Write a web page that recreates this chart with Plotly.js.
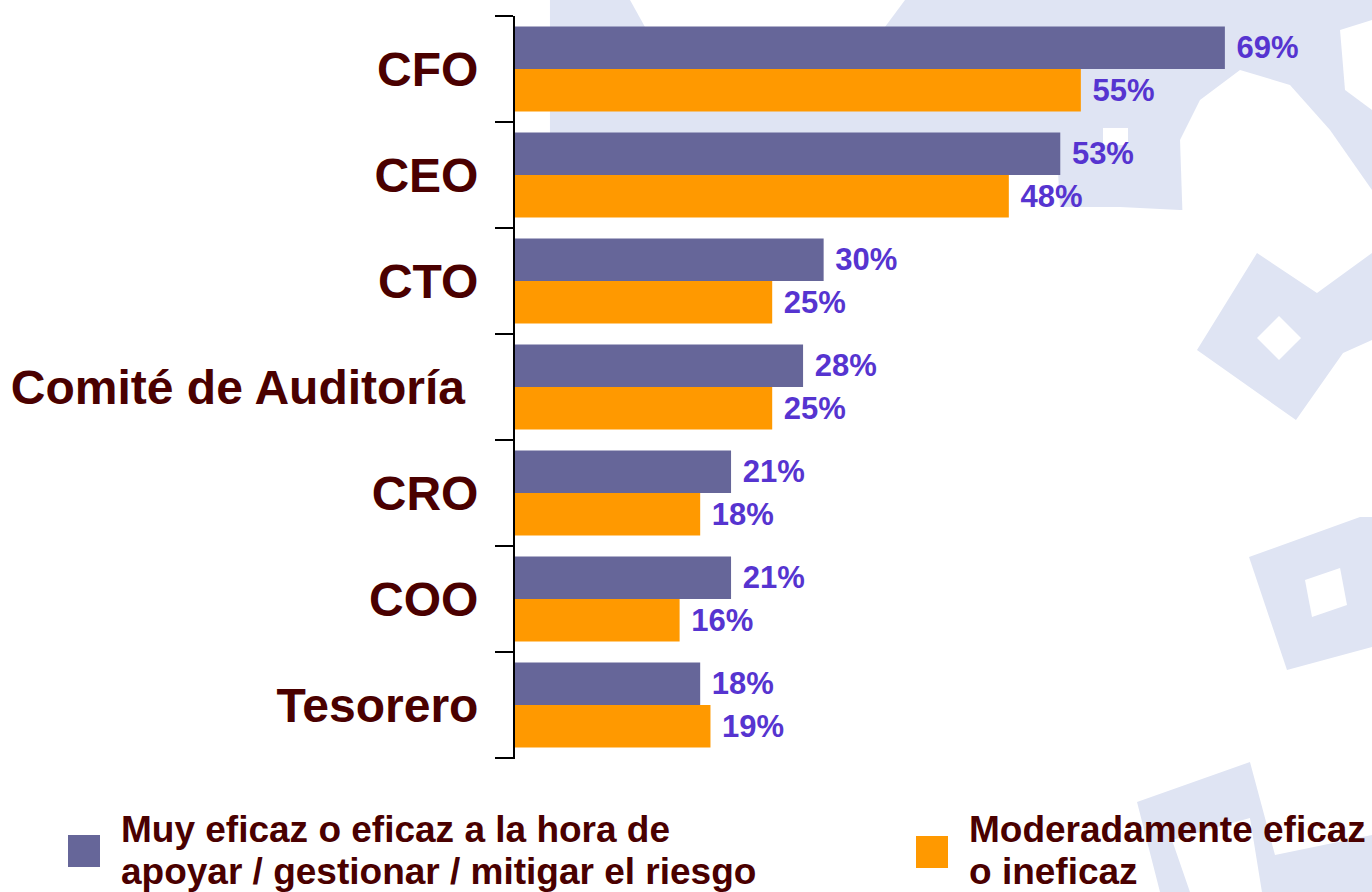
<!DOCTYPE html>
<html>
<head>
<meta charset="utf-8">
<script src="https://cdn.plot.ly/plotly-3.0.1.min.js"></script>
<style>
  html, body { margin: 0; padding: 0; background: #ffffff; }
  #chart { width: 1372px; height: 892px; }
</style>
</head>
<body>
<div id="chart"></div>
<script>
// ---------- data ----------
const categories = ["CFO", "CEO", "CTO", "Comité de Auditoría", "CRO", "COO", "Tesorero"];
const seriesNames = [
  ["Muy eficaz o eficaz a la hora de", "apoyar / gestionar / mitigar el riesgo"],
  ["Moderadamente eficaz", "o ineficaz"]
];
const efficaz = [69, 53, 30, 28, 21, 21, 18];
const moderado = [55, 48, 25, 25, 18, 16, 19];

// ---------- style ----------
const W = 1372, H = 892;
const L = 515, T = 16, B = 758;
const plotW = W - L, plotH = B - T;
const xMax = 83.3;
const purple = "#666699", orange = "#ff9900";
const labelColor = "#4a0000", valueColor = "#5634d0";
const wmColor = "#dfe4f3";
const FONT = "Arial, 'Liberation Sans', Helvetica, sans-serif";

// pixel -> paper helpers (for decorative watermark, legend and frame ticks)
const px = x => (x - L) / plotW;
const py = y => 1 - (y - T) / plotH;
function poly(pts) {
  return pts.map((p, i) => (i ? "L" : "M") + px(p[0]).toFixed(4) + "," + py(p[1]).toFixed(4)).join(" ") + " Z";
}

const wmLight = [
  [[550,0],[1372,0],[1372,210],[1180,210],[1120,207],[1060,207],[1056,135],[550,135]],
  [[1197,350],[1257,253],[1317,293],[1372,253],[1372,340],[1343,353],[1296,420]],
  [[1249,557],[1360,517],[1372,517],[1372,647],[1287,670]],
  [[1137,802],[1250,762],[1275,855],[1372,835],[1372,892],[1262,892],[1250,818],[1172,840],[1190,892],[1160,892]]
];
const wmWhite = [
  [[630,0],[905,0],[885,27],[645,27]],
  [[1183,230],[1180,140],[1200,100],[1240,70],[1290,85],[1330,130],[1372,190],[1372,240]],
  [[1340,30],[1372,20],[1372,110],[1345,90]],
  [[1279,316],[1301,338],[1279,360],[1257,338]],
  [[1305,580],[1340,568],[1347,605],[1312,617]],
  [[1103,128],[1128,128],[1128,145],[1103,145]]
];

const shapes = [];
wmLight.forEach(p => shapes.push({type: "path", xref: "paper", yref: "paper", path: poly(p),
  fillcolor: wmColor, line: {width: 0}, layer: "below"}));
wmWhite.forEach(p => shapes.push({type: "path", xref: "paper", yref: "paper", path: poly(p),
  fillcolor: "#ffffff", line: {width: 0}, layer: "below"}));

// closing tick at the bottom boundary of the category axis
shapes.push({type: "line", xref: "paper", yref: "paper", x0: px(497), x1: 0, y0: 0, y1: 0,
  line: {color: "#000000", width: 2}});

// legend squares and texts
const legendItems = [
  {color: purple, sq: [68, 835, 100, 867], tx: 120, names: seriesNames[0]},
  {color: orange, sq: [916, 836, 948, 868], tx: 968, names: seriesNames[1]}
];
const annotations = [];
legendItems.forEach(it => {
  shapes.push({type: "rect", xref: "paper", yref: "paper",
    x0: px(it.sq[0]), x1: px(it.sq[2]), y0: py(it.sq[3]), y1: py(it.sq[1]),
    fillcolor: it.color, line: {width: 0}});
  it.names.forEach((line, i) => {
    annotations.push({xref: "paper", yref: "paper", x: px(it.tx), y: py(829 + i * 42),
      xanchor: "left", yanchor: "middle", showarrow: false, text: line, borderpad: 0,
      font: {family: FONT, size: 37, color: labelColor, weight: "bold"}});
  });
});

const fmt = v => "\u00a0" + v + "%";
const tickText = categories.map(c => c.length > 10 ? c + "\u00a0" : c);

const traces = [
  {type: "bar", orientation: "h", y: categories, x: efficaz, name: seriesNames[0].join(" "),
   marker: {color: purple}, text: efficaz.map(fmt), textposition: "outside",
   constraintext: "none", cliponaxis: false,
   textfont: {family: FONT, size: 31, color: valueColor, weight: "bold"}, hoverinfo: "none"},
  {type: "bar", orientation: "h", y: categories, x: moderado, name: seriesNames[1].join(" "),
   marker: {color: orange}, text: moderado.map(fmt), textposition: "outside",
   constraintext: "none", cliponaxis: false,
   textfont: {family: FONT, size: 31, color: valueColor, weight: "bold"}, hoverinfo: "none"}
];

const layout = {
  width: W, height: H,
  margin: {l: L, r: 0, t: T, b: H - B, pad: 0},
  paper_bgcolor: "rgba(0,0,0,0)", plot_bgcolor: "rgba(0,0,0,0)",
  barmode: "group", bargap: 0.2, bargroupgap: 0,
  showlegend: false,
  xaxis: {range: [0, xMax], visible: false, fixedrange: true},
  yaxis: {type: "category", autorange: "reversed", showline: true, linecolor: "#000000", linewidth: 2,
    ticks: "outside", tickson: "boundaries", ticklen: 18, tickwidth: 2, tickcolor: "#000000",
    tickmode: "array", tickvals: categories, ticktext: tickText,
    showgrid: false, zeroline: false, ticklabelstandoff: 25,
    tickfont: {family: FONT, size: 48, color: labelColor, weight: "bold"}},
  shapes: shapes,
  annotations: annotations
};

Plotly.newPlot("chart", traces, layout, {displayModeBar: false, staticPlot: true});
</script>
</body>
</html>
